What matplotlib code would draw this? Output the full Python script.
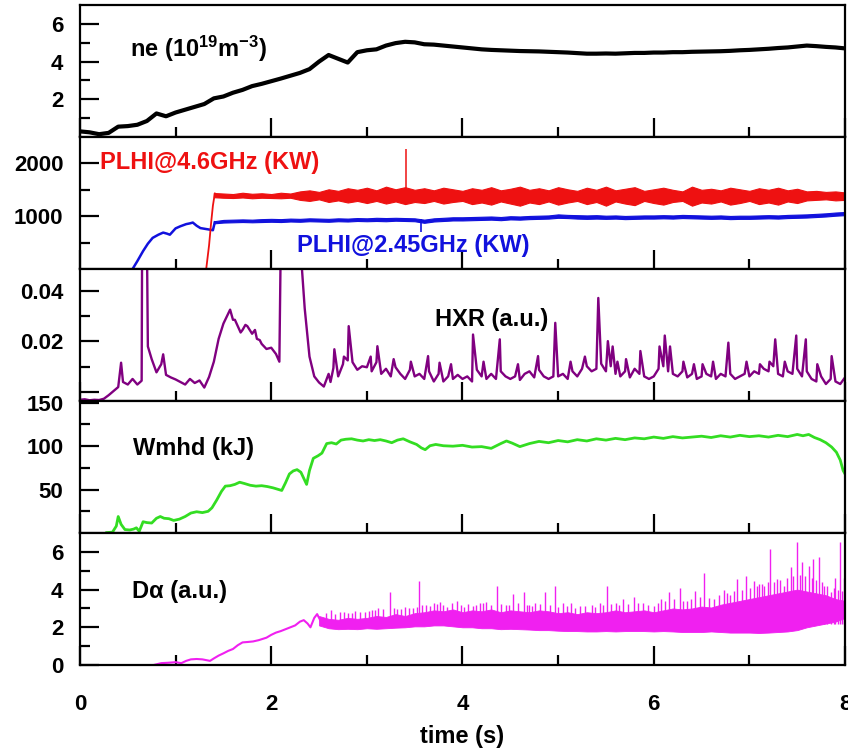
import numpy as np
import matplotlib
matplotlib.use('Agg')
import matplotlib.pyplot as plt
from matplotlib.ticker import FixedLocator

plt.rcParams['font.family'] = ['Liberation Sans', 'DejaVu Sans']
plt.rcParams['font.weight'] = 'bold'
plt.rcParams['mathtext.fontset'] = 'custom'
plt.rcParams['mathtext.rm'] = 'Liberation Sans:bold'
plt.rcParams['mathtext.it'] = 'Liberation Sans:bold'
plt.rcParams['mathtext.bf'] = 'Liberation Sans:bold'

# ---- ne (10^19 m^-3), every 0.1 s ----
ne_t = np.round(np.arange(0, 8.01, 0.1), 2)
ne = [0.30, 0.25, 0.15, 0.22, 0.55, 0.58, 0.65, 0.85, 1.25, 1.10,
      1.30, 1.45, 1.60, 1.75, 2.05, 2.15, 2.35, 2.50, 2.70, 2.82,
      2.96, 3.10, 3.25, 3.40, 3.60, 4.00, 4.35, 4.15, 3.95, 4.50,
      4.60, 4.65, 4.85, 4.98, 5.05, 5.02, 4.92, 4.90, 4.85, 4.80,
      4.75, 4.70, 4.65, 4.62, 4.60, 4.58, 4.56, 4.55, 4.54, 4.52,
      4.50, 4.48, 4.45, 4.42, 4.42, 4.43, 4.42, 4.44, 4.46, 4.46,
      4.48, 4.48, 4.50, 4.50, 4.52, 4.53, 4.54, 4.55, 4.57, 4.60,
      4.62, 4.65, 4.68, 4.72, 4.75, 4.80, 4.85, 4.82, 4.78, 4.75,
      4.70]

# ---- PLHI (kW) ----
red_ramp_t = [1.32, 1.35, 1.37, 1.39, 1.41]
red_ramp_v = [0, 450, 850, 1200, 1430]
blue_ramp_t = [0.55, 0.60, 0.66, 0.71, 0.76, 0.82, 0.87, 0.91, 0.94, 1.00,
               1.05, 1.11, 1.15, 1.18, 1.22, 1.26, 1.31, 1.36, 1.39, 1.41]
blue_ramp_v = [0, 150, 340, 480, 590, 650, 690, 670, 650, 770,
               810, 850, 865, 880, 820, 775, 760, 745, 735, 885]
band_t = np.round(np.arange(1.4, 8.01, 0.1), 2)
red_hi = [1440, 1430, 1420, 1445, 1425, 1435,
          1420, 1445, 1430, 1470, 1490, 1460, 1510, 1480, 1530, 1500,
          1540, 1490, 1560, 1510, 1550, 1500, 1530, 1490, 1540, 1510,
          1480, 1530, 1500, 1550, 1490, 1520, 1560, 1500, 1530, 1490,
          1550, 1510, 1480, 1540, 1500, 1560, 1490, 1520, 1550, 1480,
          1510, 1540, 1500, 1470, 1560, 1500, 1520, 1490, 1540, 1510,
          1480, 1530, 1500, 1540, 1490, 1520, 1470, 1480, 1460, 1470,
          1450]
red_lo = [1360, 1350, 1345, 1355, 1340, 1350,
          1345, 1340, 1350, 1310, 1290, 1320, 1270, 1300, 1260, 1290,
          1250, 1290, 1240, 1280, 1230, 1270, 1250, 1290, 1240, 1270,
          1290, 1230, 1260, 1220, 1280, 1240, 1200, 1260, 1230, 1280,
          1220, 1260, 1290, 1230, 1270, 1200, 1280, 1240, 1210, 1290,
          1250, 1220, 1270, 1290, 1200, 1260, 1240, 1280, 1220, 1250,
          1290, 1230, 1260, 1220, 1280, 1250, 1300, 1310, 1320, 1300,
          1310]
blue_hi = [905, 930, 935, 940, 935, 945,
           950, 945, 955, 950, 960, 955, 950, 960, 955, 965,
           960, 970, 965, 970, 965, 960, 935, 960, 970, 980,
           980, 985, 990, 995, 985, 1000, 995, 1005, 1010, 1015,
           1035, 1025, 1020, 1015, 1020, 1010, 1015, 1005, 1010, 1015,
           1015, 1020, 1015, 1025, 1020, 1015, 1010, 1015, 1005, 1010,
           1010, 1015, 1020, 1015, 1025, 1030, 1035, 1045, 1055, 1070,
           1080]
blue_lo = [865, 880, 885, 890, 885, 890,
           895, 890, 900, 895, 905, 900, 895, 905, 900, 910,
           905, 910, 905, 915, 910, 905, 875, 900, 910, 920,
           920, 925, 930, 935, 925, 940, 935, 945, 950, 955,
           970, 965, 955, 950, 955, 950, 955, 945, 950, 955,
           955, 960, 955, 965, 960, 955, 950, 955, 945, 950,
           950, 955, 960, 955, 965, 970, 975, 985, 995, 1010,
           1020]
red_spike = (3.41, 1450, 2280)
blue_dip = (3.57, 940, 710)

# ---- HXR (a.u.), every 0.05 s plus spikes ----
hxr_t = np.round(np.arange(0, 8.001, 0.05), 3)
hxr = [-0.003, -0.0028, -0.0032, -0.003, -0.0031, -0.0026, -0.0012, 0.0004, 0.002, 0.004,
       0.003, 0.0052, 0.003, 0.06, 0.06, 0.013, 0.0078, 0.011, 0.0068, 0.0058,
       0.005, 0.004, 0.003, 0.0052, 0.0036, 0.0046, 0.0018, 0.006, 0.012, 0.021,
       0.027, 0.031, 0.0285, 0.026, 0.0245, 0.026, 0.023, 0.021, 0.019, 0.017,
       0.0175, 0.015, 0.06, 0.06, 0.06, 0.06, 0.06, 0.033, 0.014, 0.0062,
       0.0038, 0.0022, 0.0072, 0.0095, 0.0062, 0.011, 0.0125, 0.0118, 0.0088, 0.0102,
       0.0098, 0.0082, 0.0118, 0.0072, 0.0092, 0.0062, 0.0098, 0.0072, 0.0052, 0.0088,
       0.0062, 0.0072, 0.0052, 0.0082, 0.0042, 0.0072, 0.0042, 0.0062, 0.0052, 0.0068,
       0.0052, 0.0062, 0.0042, 0.0088, 0.0062, 0.0052, 0.0072, 0.0052, 0.0082, 0.0062,
       0.0052, 0.0062, 0.0048, 0.0072, 0.0082, 0.0058, 0.0088, 0.0062, 0.0052, 0.0062,
       0.0062, 0.0072, 0.0052, 0.0082, 0.0062, 0.0092, 0.0102, 0.0082, 0.0092, 0.0112,
       0.0082, 0.0102, 0.0072, 0.0062, 0.0082, 0.0058, 0.0092, 0.0072, 0.0062, 0.0052,
       0.0062, 0.0092, 0.0102, 0.0082, 0.0072, 0.0062, 0.0082, 0.0058, 0.0072, 0.0052,
       0.0062, 0.0072, 0.0062, 0.0052, 0.0072, 0.0062, 0.0072, 0.0052, 0.0062, 0.0072,
       0.0062, 0.0082, 0.0072, 0.0092, 0.0082, 0.0102, 0.0072, 0.0062, 0.0082, 0.0072,
       0.0092, 0.0062, 0.0082, 0.0052, 0.0042, 0.0062, 0.0032, 0.0052, 0.0042, 0.0032,
       0.0058]
hxr_spike_t = [0.43, 0.645, 0.71, 0.87, 1.57, 1.62, 1.68, 1.73, 1.83, 1.88,
               2.085, 2.62, 2.66, 2.81, 2.76, 3.04, 3.11, 3.28, 3.46, 3.64,
               3.76, 3.88, 4.11, 4.22, 4.39, 4.58, 4.79, 4.97, 5.13, 5.28,
               5.42, 5.52, 5.57, 5.62, 5.71, 5.86, 6.06, 6.115, 6.17, 6.31,
               6.42, 6.51, 6.62, 6.78, 6.97, 7.11, 7.21, 7.27, 7.37, 7.49,
               7.59, 7.71, 7.86]
hxr_spike_v = [0.0116, 0.0045, 0.018, 0.0149, 0.0325, 0.0285, 0.0235, 0.0265, 0.0245, 0.0205,
               0.012, 0.004, 0.0169, 0.026, 0.014, 0.014, 0.0181, 0.013, 0.012, 0.0142,
               0.0116, 0.011, 0.0227, 0.012, 0.0208, 0.011, 0.0142, 0.0273, 0.012, 0.014,
               0.0371, 0.0201, 0.018, 0.012, 0.013, 0.0162, 0.018, 0.0223, 0.018, 0.012,
               0.011, 0.011, 0.012, 0.0195, 0.012, 0.011, 0.012, 0.0208, 0.012, 0.0223,
               0.0208, 0.011, 0.0142]

# ---- Wmhd (kJ) ----
wmhd_t = [0.28, 0.34, 0.38, 0.40, 0.43, 0.47, 0.52, 0.56, 0.59, 0.62,
          0.66, 0.70, 0.75, 0.80, 0.84, 0.88, 0.93, 0.98, 1.04, 1.10,
          1.16, 1.22, 1.28, 1.34, 1.38, 1.43, 1.48, 1.52, 1.57, 1.62,
          1.67, 1.72, 1.78, 1.84, 1.90, 1.96, 2.02, 2.08, 2.11, 2.15,
          2.19, 2.23, 2.27, 2.31, 2.34, 2.37, 2.40, 2.44, 2.49, 2.53,
          2.58, 2.63, 2.68, 2.73, 2.78, 2.84, 2.90, 2.96, 3.02, 3.08,
          3.14, 3.20, 3.26, 3.32, 3.38, 3.45, 3.52, 3.57, 3.61, 3.66,
          3.72, 3.80, 3.90, 4.00, 4.10, 4.20, 4.30, 4.40, 4.46, 4.52,
          4.60, 4.70, 4.80, 4.90, 5.00, 5.10, 5.20, 5.30, 5.40, 5.50,
          5.60, 5.70, 5.80, 5.90, 6.00, 6.10, 6.20, 6.30, 6.40, 6.50,
          6.60, 6.70, 6.80, 6.90, 7.00, 7.10, 7.20, 7.30, 7.40, 7.50,
          7.56, 7.62, 7.68, 7.74, 7.80, 7.86, 7.91, 7.95, 7.98, 8.00]
wmhd = [0.5, 1.0, 8.0, 19.0, 10.0, 4.0, 3.5, 4.5, 6.0, 2.0,
        13.0, 12.0, 11.5, 17.0, 19.0, 17.0, 16.5, 14.5, 16.0, 19.0,
        23.0, 24.5, 23.5, 25.0, 29.0, 38.0, 48.0, 54.0, 54.5, 56.0,
        58.5, 57.0, 55.0, 54.0, 54.5, 53.5, 52.0, 50.0, 49.0, 58.0,
        68.0, 71.5, 73.0, 70.0, 63.0, 56.0, 72.0, 86.0, 89.0, 92.0,
        103.0, 104.0, 102.5, 107.0, 108.0, 108.5, 107.0, 106.0, 107.5, 106.5,
        107.5, 106.0, 104.0, 107.0, 108.5, 105.0, 102.0, 98.0, 96.0, 100.5,
        102.0, 100.5, 100.0, 101.0, 99.0, 99.5, 97.5, 103.0, 106.0, 103.5,
        99.5, 103.0, 105.5, 104.0, 106.5, 105.0, 107.5, 106.0, 108.5, 107.0,
        109.0, 107.5, 109.5, 108.5, 110.5, 109.0, 111.0, 109.5, 110.5, 111.5,
        110.0, 112.0, 110.5, 112.5, 111.0, 112.0, 110.5, 112.5, 111.0, 113.5,
        112.0, 113.5, 110.0, 107.5, 104.0, 99.0, 93.0, 84.0, 72.0, 68.0]

# ---- D-alpha (a.u.) ----
da_ramp_t = [0.77, 0.85, 0.92, 1.00, 1.06, 1.11, 1.16, 1.22, 1.28, 1.36,
             1.40, 1.45, 1.50, 1.55, 1.60, 1.65, 1.70, 1.75, 1.81, 1.87,
             1.95, 2.00, 2.05, 2.10, 2.16, 2.20, 2.25, 2.30, 2.34, 2.38,
             2.41, 2.45, 2.48, 2.52]
da_ramp = [0.0, 0.1, 0.12, 0.15, 0.1, 0.22, 0.3, 0.32, 0.3, 0.22,
           0.35, 0.5, 0.62, 0.75, 0.85, 1.05, 1.2, 1.22, 1.25, 1.32,
           1.45, 1.6, 1.72, 1.8, 1.92, 2.0, 2.1, 2.3, 2.38, 2.2,
           2.0, 2.5, 2.7, 2.3]
da_band_t = np.round(np.arange(2.5, 8.01, 0.1), 2)
da_lo = [2.1, 1.95, 1.9, 1.92, 1.9,
         1.95, 1.92, 1.95, 1.98, 2.0, 2.05, 2.05, 2.1, 2.1, 2.05,
         2.0, 2.0, 1.95, 1.95, 1.9, 1.92, 1.9, 1.88, 1.85, 1.85,
         1.82, 1.8, 1.8, 1.78, 1.78, 1.8, 1.78, 1.8, 1.8, 1.8,
         1.78, 1.8, 1.78, 1.75, 1.75, 1.75, 1.78, 1.75, 1.72, 1.72,
         1.72, 1.7, 1.72, 1.75, 1.78, 1.85, 2.0, 2.1, 2.2, 2.3,
         2.5]
da_hi = [2.6, 2.45, 2.4, 2.5, 2.45,
         2.5, 2.6, 2.55, 2.7, 2.6, 2.75, 2.8, 2.9, 2.85, 2.95,
         2.8, 2.9, 2.85, 2.95, 2.8, 2.9, 2.85, 2.8, 2.9, 2.85,
         2.75, 2.8, 2.7, 2.8, 2.75, 2.8, 2.9, 2.8, 2.85, 2.9,
         2.8, 2.9, 3.0, 2.95, 3.0, 3.1, 3.05, 3.2, 3.3, 3.4,
         3.5, 3.6, 3.7, 3.8, 3.9, 4.0, 3.9, 3.8, 3.7, 3.5,
         3.4]
# tall spikes
da_spike_t = [2.62, 2.72, 2.80, 2.88, 2.98, 3.05, 3.12, 3.24, 3.32, 3.40,
              3.48, 3.55, 3.62, 3.70, 3.76, 3.84, 3.94, 4.02, 4.11, 4.18,
              4.25, 4.36, 4.45, 4.53, 4.64, 4.70, 4.76, 4.86, 4.97, 5.05,
              5.13, 5.23, 5.35, 5.44, 5.51, 5.60, 5.68, 5.79, 5.89, 6.00,
              6.08, 6.16, 6.27, 6.35, 6.43, 6.53, 6.63, 6.73, 6.80, 6.87,
              6.96, 7.05, 7.10, 7.15, 7.22, 7.29, 7.36, 7.43, 7.50, 7.55,
              7.62, 7.67, 7.73, 7.78, 7.85, 7.90, 7.95, 7.99]
da_spike = [2.9, 2.8, 2.75, 2.85, 2.8, 2.9, 3.0, 3.85, 2.95, 3.1,
            3.0, 4.47, 3.2, 3.3, 3.32, 3.1, 3.4, 3.1, 3.15, 3.3,
            3.36, 4.2, 3.2, 3.77, 3.85, 3.2, 3.3, 3.85, 4.2, 3.3,
            3.3, 3.15, 3.2, 3.3, 4.2, 3.3, 3.5, 3.6, 3.3, 3.15,
            3.5, 3.85, 4.1, 3.4, 3.94, 4.9, 3.5, 4.0, 3.7, 4.56,
            4.74, 4.47, 4.3, 4.2, 6.15, 4.56, 4.2, 5.18, 6.54, 5.44,
            5.27, 5.62, 5.71, 4.2, 3.85, 4.6, 6.5, 4.6]
# shorter spikes in between
da_spike2_t = [2.57, 2.67, 2.76, 2.84, 2.93, 3.02, 3.08, 3.17, 3.28, 3.36,
               3.44, 3.52, 3.58, 3.66, 3.73, 3.80, 3.89, 3.98, 4.06, 4.14,
               4.21, 4.30, 4.40, 4.49, 4.58, 4.67, 4.73, 4.81, 4.91, 5.00,
               5.09, 5.18, 5.28, 5.39, 5.47, 5.55, 5.64, 5.73, 5.84, 5.94,
               6.04, 6.12, 6.21, 6.31, 6.39, 6.48, 6.58, 6.68, 6.77, 6.84,
               6.92, 7.01, 7.08, 7.13, 7.19, 7.26, 7.32, 7.39, 7.46, 7.53,
               7.58, 7.65, 7.70, 7.76, 7.81, 7.88, 7.93, 7.97]
da_spike2 = [2.75, 2.7, 2.8, 2.75, 2.8, 2.85, 2.9, 2.95, 3.0, 2.95,
             3.05, 3.1, 3.2, 3.15, 3.25, 3.2, 3.3, 3.2, 3.25, 3.2,
             3.3, 3.2, 3.25, 3.2, 3.3, 3.2, 3.15, 3.25, 3.2, 3.1,
             3.15, 3.05, 3.15, 3.1, 3.2, 3.25, 3.2, 3.25, 3.3, 3.2,
             3.3, 3.4, 3.5, 3.4, 3.5, 3.6, 3.55, 3.7, 3.8, 3.9,
             4.0, 4.1, 4.2, 4.3, 4.4, 4.4, 4.5, 4.6, 4.7, 4.8,
             4.7, 4.6, 4.5, 4.4, 4.2, 4.1, 4.0, 3.9]

RED = '#ee1111'
BLUE = '#1111dd'
PURPLE = '#800080'
GREEN = '#33dd22'
MAGENTA = '#f020f0'

fig, axes = plt.subplots(5, 1, sharex=True, figsize=(8.48, 7.5), dpi=100)
fig.subplots_adjust(left=0.0943, right=0.9965, top=0.9933, bottom=0.1133, hspace=0)

# ne
ax = axes[0]
ax.plot(ne_t, ne, color='black', lw=3)
ax.set_ylim(0, 7)
ax.set_yticks([2, 4, 6])
ax.yaxis.set_minor_locator(FixedLocator([1, 3, 5]))
ax.text(0.065, 0.67, r'ne (10$^{19}$m$^{-3}$)', transform=ax.transAxes, fontsize=17, va='center')

# PLHI
ax = axes[1]
ax.plot(blue_ramp_t, blue_ramp_v, color=BLUE, lw=1.8)
ax.fill_between(band_t, blue_lo, blue_hi, color=BLUE, lw=0.8)
ax.vlines(blue_dip[0], blue_dip[2], blue_dip[1], color=BLUE, lw=1.2)
ax.plot(red_ramp_t, red_ramp_v, color=RED, lw=1.3)
ax.fill_between(band_t, red_lo, red_hi, color=RED, lw=0.8)
ax.vlines(red_spike[0], red_spike[1], red_spike[2], color=RED, lw=1.1)
ax.set_ylim(0, 2500)
ax.set_yticks([1000, 2000])
ax.yaxis.set_minor_locator(FixedLocator([500, 1500]))
ax.text(0.026, 0.81, 'PLHI@4.6GHz (KW)', transform=ax.transAxes, fontsize=17, va='center', color=RED)
ax.text(0.284, 0.175, 'PLHI@2.45GHz (KW)', transform=ax.transAxes, fontsize=17, va='center', color=BLUE)

# HXR
ax = axes[2]
t_all = np.concatenate([hxr_t, hxr_spike_t])
v_all = np.concatenate([hxr, hxr_spike_v])
order = np.argsort(t_all, kind='stable')
ax.plot(t_all[order], v_all[order], color=PURPLE, lw=1.7)
ax.set_ylim(-0.0035, 0.0485)
ax.set_yticks([0, 0.02, 0.04])
ax.set_yticklabels(['', '0.02', '0.04'])
ax.yaxis.set_minor_locator(FixedLocator([0.01, 0.03]))
ax.text(0.464, 0.62, 'HXR (a.u.)', transform=ax.transAxes, fontsize=17, va='center')

# Wmhd
ax = axes[3]
ax.plot(wmhd_t, wmhd, color=GREEN, lw=2)
ax.set_ylim(0, 152)
ax.set_yticks([50, 100, 150])
ax.yaxis.set_minor_locator(FixedLocator([25, 75, 125]))
ax.text(0.069, 0.64, 'Wmhd (kJ)', transform=ax.transAxes, fontsize=17, va='center')

# D-alpha
ax = axes[4]
ax.plot(da_ramp_t, da_ramp, color=MAGENTA, lw=1.5)
ax.fill_between(da_band_t, da_lo, da_hi, color=MAGENTA, lw=0.6)
ax.vlines(da_spike_t, 2.2, da_spike, color=MAGENTA, lw=1.0)
ax.vlines(da_spike2_t, 2.2, da_spike2, color=MAGENTA, lw=1.0)
ax.set_ylim(0, 7)
ax.set_yticks([0, 2, 4, 6])
ax.yaxis.set_minor_locator(FixedLocator([1, 3, 5]))
ax.text(0.068, 0.56, 'D\u03b1 (a.u.)', transform=ax.transAxes, fontsize=17, va='center')

for ax in axes:
    for s in ax.spines.values():
        s.set_linewidth(1.6)
    ax.set_xlim(0, 8)
    ax.xaxis.set_major_locator(FixedLocator([0, 2, 4, 6, 8]))
    ax.xaxis.set_minor_locator(FixedLocator([1, 3, 5, 7]))
    ax.tick_params(which='both', direction='in', top=False, right=False, width=1.6, labelsize=16)
    ax.tick_params(which='major', length=14)
    ax.tick_params(which='minor', length=7)
    ax.tick_params(axis='y', pad=12)

axes[-1].tick_params(axis='x', pad=21)
axes[-1].set_xlabel('time (s)', fontsize=17, fontweight='bold', labelpad=7)

fig.savefig('out.png', dpi=100)
